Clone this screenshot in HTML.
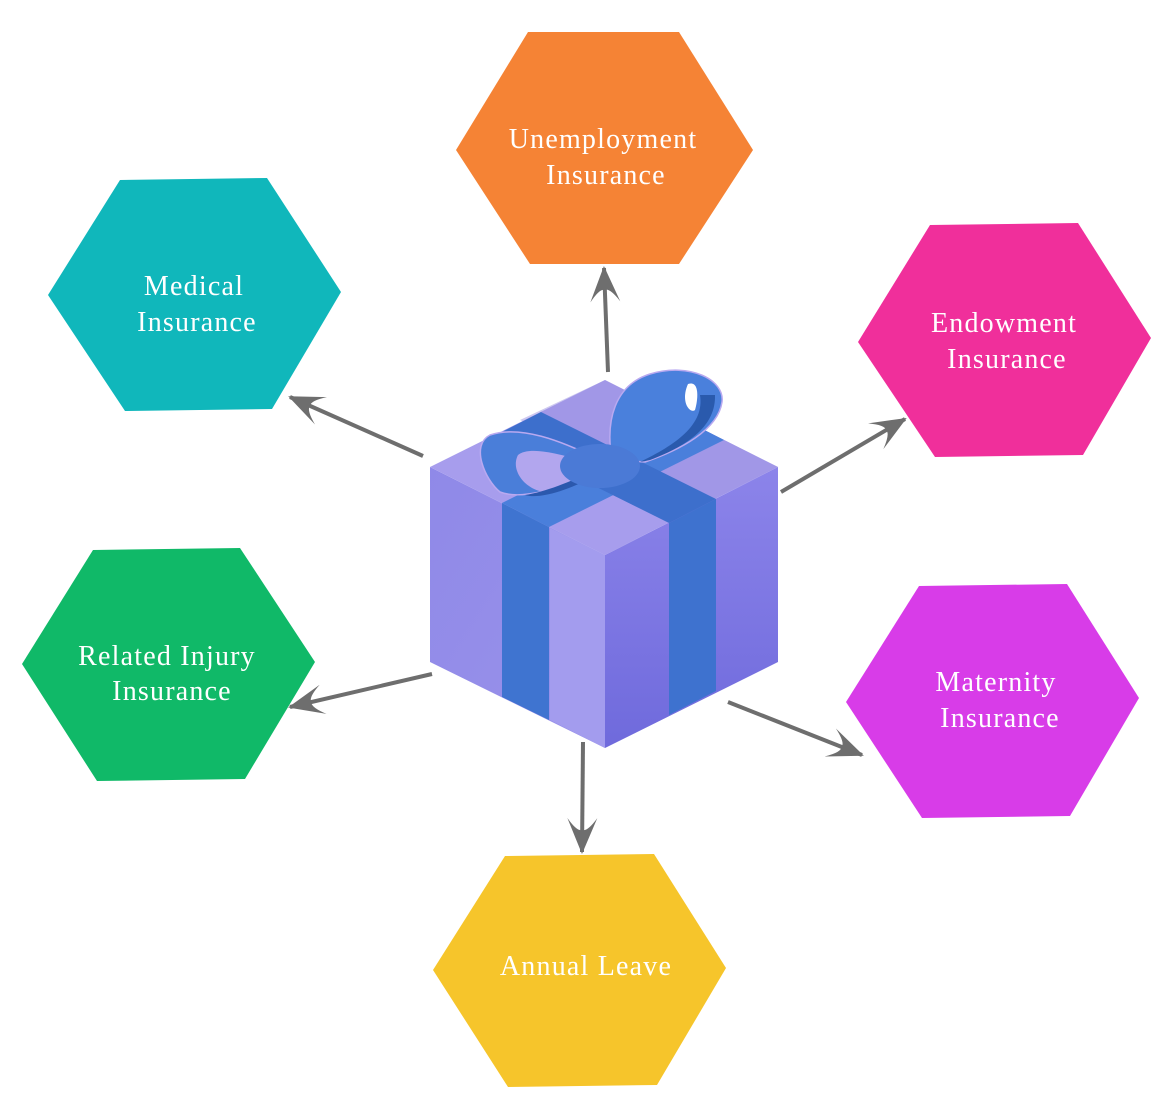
<!DOCTYPE html>
<html><head><meta charset="utf-8"><style>
html,body{margin:0;padding:0;background:#fff;}
svg{display:block;}
text{font-family:"Liberation Serif",serif;font-size:28px;fill:#fff;text-anchor:middle;letter-spacing:1.2px;}
</style></head><body>
<svg width="1154" height="1117" viewBox="0 0 1154 1117" xmlns="http://www.w3.org/2000/svg">
<defs>
<marker id="ah" viewBox="0 0 36 30" refX="34" refY="15" markerWidth="36" markerHeight="30" markerUnits="userSpaceOnUse" orient="auto">
<path d="M36,15 L0,0 Q14,10 12,15 Q14,20 0,30 Z" fill="#6e6e6e"/>
</marker>
<linearGradient id="gl" x1="0" y1="0" x2="1" y2="1"><stop offset="0" stop-color="#8f89e8"/><stop offset="1" stop-color="#9a92ea"/></linearGradient>
<linearGradient id="gr" x1="0" y1="0" x2="0" y2="1"><stop offset="0" stop-color="#8c84ea"/><stop offset="1" stop-color="#6f6adc"/></linearGradient>
</defs>
<polygon points="528,32 679,32 753,150 679,264 530,264 456,150" fill="#f58335"/>
<polygon points="120,180 267,178 341,292 272,409 125,411 48,295" fill="#10b7bb"/>
<polygon points="930,225 1078,223 1151,338 1083,455 935,457 858,342" fill="#f02f9b"/>
<polygon points="93,550 240,548 315,662 245,779 97,781 22,664" fill="#10b968"/>
<polygon points="919,586 1067,584 1139,698 1070,816 922,818 846,702" fill="#d83ce8"/>
<polygon points="505,856 654,854 726,968 657,1085 508,1087 433,970" fill="#f6c52b"/>
<text x="603" y="148">Unemployment</text><text x="606" y="184">Insurance</text>
<text x="194" y="295">Medical</text><text x="197" y="331">Insurance</text>
<text x="1004" y="332">Endowment</text><text x="1007" y="368">Insurance</text>
<text x="167" y="665">Related Injury</text><text x="172" y="700">Insurance</text>
<text x="996" y="691">Maternity</text><text x="1000" y="727">Insurance</text>
<text x="586" y="975">Annual Leave</text>
<g stroke="#6e6e6e" stroke-width="4" fill="none" marker-end="url(#ah)">
<line x1="608" y1="372" x2="604" y2="268"/>
<line x1="423" y1="456" x2="290" y2="397"/>
<line x1="781" y1="492" x2="905" y2="419"/>
<line x1="432" y1="674" x2="290" y2="707"/>
<line x1="728" y1="702" x2="862" y2="755"/>
<line x1="583" y1="742" x2="582" y2="852"/>
</g>
<polygon points="430,467 605,555 605,748 430,662" fill="url(#gl)"/>
<polygon points="605,555 778,467 778,662 605,748" fill="url(#gr)"/>
<polygon points="550,528 605,555 605,748 550,720" fill="#a39cee"/>
<polygon points="605,380 778,467 605,555 430,467" fill="#a79ded"/>
<polygon points="605,380 778,467 700,506 520,420" fill="#9b92e2" opacity="0.5"/>
<polygon points="502,503 549,527 549,720 502,697" fill="#3f74d0"/>
<polygon points="669,523 716,499 716,691 669,715" fill="#3e72cf"/>
<polygon points="502,503 549,527 724,440 677,416" fill="#4a7fdb"/>
<polygon points="669,523 716,499 541,412 494,436" fill="#3d6fcc"/>
<path d="M600,460 C560,440 520,425 490,435 C470,445 485,480 500,492 C520,500 560,490 600,470 Z" fill="#4a7ed9" stroke="#b9a9f0" stroke-width="1.5"/>
<path d="M595,465 C565,455 530,445 518,455 C510,470 525,490 545,492 C565,488 585,478 595,470 Z" fill="#b2a6ee"/>
<path d="M595,470 C570,482 545,492 525,495 C540,500 575,488 595,475 Z" fill="#2b58ad"/>
<path d="M612,460 C605,420 615,385 650,374 C690,362 725,380 722,402 C718,430 680,450 645,462 Z" fill="#4a80dc" stroke="#b9a9f0" stroke-width="1.5"/>
<path d="M688,384 C700,380 698,400 695,410 C690,414 680,402 688,384 Z" fill="#ffffff"/>
<path d="M715,395 C716,425 690,445 650,460 L640,462 C675,445 705,425 700,395 Z" fill="#2a5aad"/>
<ellipse cx="600" cy="466" rx="40" ry="22" fill="#4b7ad6"/>
</svg>
</body></html>
